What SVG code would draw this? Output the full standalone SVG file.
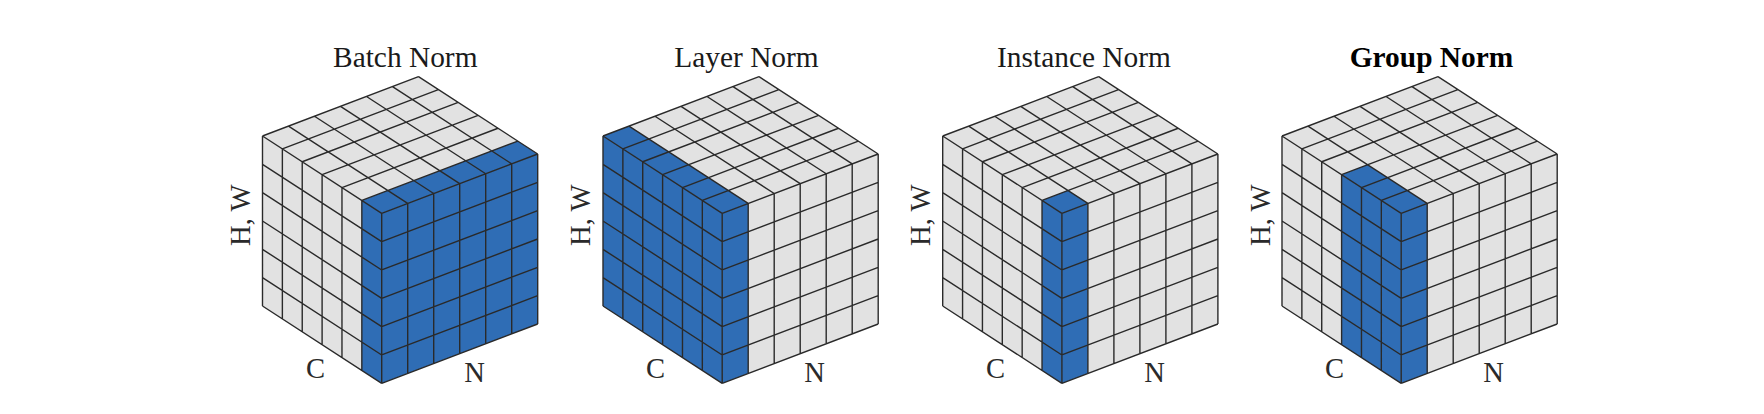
<svg xmlns="http://www.w3.org/2000/svg" width="1764" height="414" viewBox="0 0 1764 414">
<style>
text{font-family:"Liberation Serif","Times New Roman",serif;font-size:29.4px;fill:#1a1a1a;text-anchor:middle}
.lbl{font-size:28.6px;fill:#2a2a2a}
.b{font-weight:bold;fill:#000}
.gray{fill:#e2e2e2}
.blue{fill:#2f6db5}
.grid{fill:none;stroke:#2a2a2a;stroke-width:1.4;stroke-linejoin:round}
</style>
<defs>
<path id="cubeFill" class="gray" d="M0 0L156 -59.3L275.2 18V188L119.2 247.3L0 170Z"/>
<path id="cubeGrid" class="grid" d="M0 0l156 -59.3M19.87 12.88l156 -59.3M39.73 25.77l156 -59.3M59.6 38.65l156 -59.3M79.47 51.53l156 -59.3M99.33 64.42l156 -59.3M119.2 77.3l156 -59.3M0 0l119.2 77.3M26 -9.88l119.2 77.3M52 -19.77l119.2 77.3M78 -29.65l119.2 77.3M104 -39.53l119.2 77.3M130 -49.42l119.2 77.3M156 -59.3l119.2 77.3M0 0v170M19.87 12.88v170M39.73 25.77v170M59.6 38.65v170M79.47 51.53v170M99.33 64.42v170M119.2 77.3v170M0 28.33l119.2 77.3M0 56.67l119.2 77.3M0 85l119.2 77.3M0 113.33l119.2 77.3M0 141.67l119.2 77.3M0 170l119.2 77.3M145.2 67.42v170M171.2 57.53v170M197.2 47.65v170M223.2 37.77v170M249.2 27.88v170M275.2 18v170M119.2 105.63l156 -59.3M119.2 133.97l156 -59.3M119.2 162.3l156 -59.3M119.2 190.63l156 -59.3M119.2 218.97l156 -59.3M119.2 247.3l156 -59.3"/>
</defs>
<g id="batch-norm">
<g transform="translate(262.5 136)">
<use href="#cubeFill"/>
<polygon class="blue" points="99.33,64.42 119.2,77.3 275.2,18 255.33,5.12"/>
<polygon class="blue" points="99.33,64.42 119.2,77.3 119.2,247.3 99.33,234.42"/>
<polygon class="blue" points="119.2,77.3 275.2,18 275.2,188 119.2,247.3"/>
<use href="#cubeGrid"/>
</g>
<text x="405.3" y="67">Batch Norm</text>
<text class="lbl" transform="translate(250 215.3) rotate(-90)">H, W</text>
<text class="lbl" x="315.5" y="378">C</text>
<text class="lbl" x="474.5" y="382">N</text>
</g>
<g id="layer-norm">
<g transform="translate(603 136)">
<use href="#cubeFill"/>
<polygon class="blue" points="0,0 119.2,77.3 145.2,67.42 26,-9.88"/>
<polygon class="blue" points="0,0 119.2,77.3 119.2,247.3 0,170"/>
<polygon class="blue" points="119.2,77.3 145.2,67.42 145.2,237.42 119.2,247.3"/>
<use href="#cubeGrid"/>
</g>
<text x="746.5" y="67">Layer Norm</text>
<text class="lbl" transform="translate(590 215.3) rotate(-90)">H, W</text>
<text class="lbl" x="655.5" y="378">C</text>
<text class="lbl" x="814.5" y="382">N</text>
</g>
<g id="instance-norm">
<g transform="translate(942.7 136)">
<use href="#cubeFill"/>
<polygon class="blue" points="99.33,64.42 119.2,77.3 145.2,67.42 125.33,54.54"/>
<polygon class="blue" points="99.33,64.42 119.2,77.3 119.2,247.3 99.33,234.42"/>
<polygon class="blue" points="119.2,77.3 145.2,67.42 145.2,237.42 119.2,247.3"/>
<use href="#cubeGrid"/>
</g>
<text x="1084" y="67">Instance Norm</text>
<text class="lbl" transform="translate(929.5 215.3) rotate(-90)">H, W</text>
<text class="lbl" x="995.5" y="378">C</text>
<text class="lbl" x="1154.5" y="382">N</text>
</g>
<g id="group-norm">
<g transform="translate(1282 136)">
<use href="#cubeFill"/>
<polygon class="blue" points="59.6,38.65 119.2,77.3 145.2,67.42 85.6,28.77"/>
<polygon class="blue" points="59.6,38.65 119.2,77.3 119.2,247.3 59.6,208.65"/>
<polygon class="blue" points="119.2,77.3 145.2,67.42 145.2,237.42 119.2,247.3"/>
<use href="#cubeGrid"/>
</g>
<text class="b" x="1431.5" y="67">Group Norm</text>
<text class="lbl" transform="translate(1269.5 215.3) rotate(-90)">H, W</text>
<text class="lbl" x="1334.5" y="378">C</text>
<text class="lbl" x="1493.5" y="382">N</text>
</g>
</svg>
